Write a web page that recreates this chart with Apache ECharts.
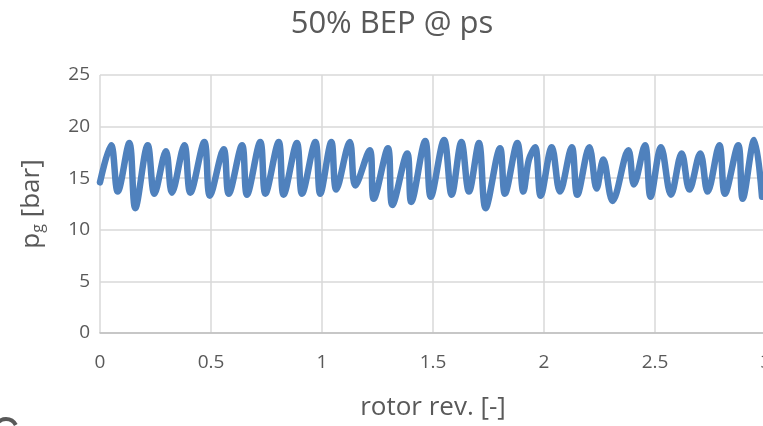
<!DOCTYPE html>
<html>
<head>
<meta charset="utf-8">
<title>50% BEP @ ps</title>
<script src="https://cdn.jsdelivr.net/npm/echarts@6/dist/echarts.min.js"></script>
<style>
  html, body { margin: 0; padding: 0; background: #fff; }
  #chart { width: 763px; height: 426px; }
</style>
</head>
<body>
<div id="chart"></div>
<script>
// rotor revolutions (x) and gas pressure p_g in bar (y)
var rev = [
  0.000, 0.050, 0.080, 0.132, 0.159, 0.215, 0.245, 0.297, 0.324, 0.380,
  0.407, 0.470, 0.495, 0.557, 0.580, 0.640, 0.662, 0.722, 0.745, 0.805,
  0.827, 0.887, 0.910, 0.970, 0.992, 1.042, 1.064, 1.125, 1.150, 1.215,
  1.233, 1.297, 1.317, 1.384, 1.402, 1.465, 1.490, 1.550, 1.584, 1.628,
  1.662, 1.707, 1.737, 1.802, 1.824, 1.880, 1.907, 1.932, 1.960, 1.985,
  2.035, 2.072, 2.125, 2.150, 2.204, 2.237, 2.267, 2.309, 2.380, 2.405,
  2.455, 2.480, 2.527, 2.572, 2.620, 2.655, 2.704, 2.737, 2.790, 2.815,
  2.875, 2.895, 2.947, 2.982
];
var pg = [
  14.6, 18.2, 13.7, 18.4, 12.1, 18.2, 13.5, 17.6, 13.6, 18.2,
  13.6, 18.5, 13.3, 17.8, 13.5, 18.2, 13.4, 18.5, 13.5, 18.5,
  13.4, 18.4, 13.5, 18.5, 13.5, 18.5, 13.9, 18.5, 14.3, 17.7,
  13.0, 17.9, 12.4, 17.4, 12.7, 18.6, 13.2, 18.7, 13.4, 18.5,
  13.7, 18.4, 12.1, 17.9, 13.5, 18.4, 13.7, 16.8, 18.0, 13.3,
  18.0, 13.7, 18.0, 13.4, 18.0, 14.0, 16.8, 12.8, 17.7, 14.4,
  18.2, 13.2, 18.0, 13.4, 17.4, 13.9, 17.4, 13.7, 18.2, 13.5,
  18.2, 13.0, 18.7, 13.2
];
var xTicks = [0, 0.5, 1, 1.5, 2, 2.5, 3];
var yTicks = [0, 5, 10, 15, 20, 25];

var points = [];
for (var i = 0; i < rev.length; i++) {
  points.push([rev[i], pg[i]]);
}

var textColor = '#595959';
var fontName = '"Open Sans", "Noto Sans", sans-serif';

var chart = echarts.init(document.getElementById('chart'), null, { renderer: 'canvas' });
chart.setOption({
  animation: false,
  backgroundColor: '#ffffff',
  title: {
    text: '50% BEP @ ps',
    left: 387,
    textAlign: 'center',
    top: 4,
    textStyle: { color: textColor, fontSize: 31, fontWeight: 'normal', fontFamily: fontName }
  },
  grid: { left: 100, right: -3, top: 75, bottom: 93, containLabel: false, outerBoundsMode: 'none' },
  xAxis: {
    type: 'value',
    min: xTicks[0],
    max: xTicks[xTicks.length - 1],
    interval: 0.5,
    name: 'rotor rev. [-]',
    nameLocation: 'middle',
    nameGap: 62,
    nameTextStyle: { color: textColor, fontSize: 26, fontFamily: fontName },
    axisLine: { show: true, lineStyle: { color: '#bfbfbf', width: 1.5 } },
    axisTick: { show: false },
    axisLabel: { color: textColor, fontSize: 19, fontFamily: fontName, margin: 20 },
    splitLine: { show: true, lineStyle: { color: '#d9d9d9', width: 1.5 } }
  },
  yAxis: {
    type: 'value',
    min: yTicks[0],
    max: yTicks[yTicks.length - 1],
    interval: 5,
    name: '{a|p}{b|g}{a| [bar]}',
    nameLocation: 'middle',
    nameGap: 54,
    nameTextStyle: {
      color: textColor,
      fontFamily: fontName,
      rich: {
        a: { fontSize: 26, color: textColor, fontFamily: fontName },
        b: { fontSize: 16, color: textColor, fontFamily: fontName, padding: [13, 0, 0, 0] }
      }
    },
    axisLine: { show: false },
    axisTick: { show: false },
    axisLabel: { color: textColor, fontSize: 19, fontFamily: fontName, margin: 10 },
    splitLine: { show: true, lineStyle: { color: '#d9d9d9', width: 1.5 } }
  },
  series: [{
    type: 'line',
    data: points,
    smooth: 0.35,
    showSymbol: false,
    clip: true,
    lineStyle: { color: '#4f81bd', width: 6.5, cap: 'round', join: 'round' }
  }],
  graphic: [{
    type: 'arc',
    shape: { cx: 6, cy: 430, r: 11, startAngle: Math.PI, endAngle: Math.PI * 1.85 },
    style: { stroke: '#595959', lineWidth: 4, fill: null }
  }]
});
</script>
</body>
</html>
